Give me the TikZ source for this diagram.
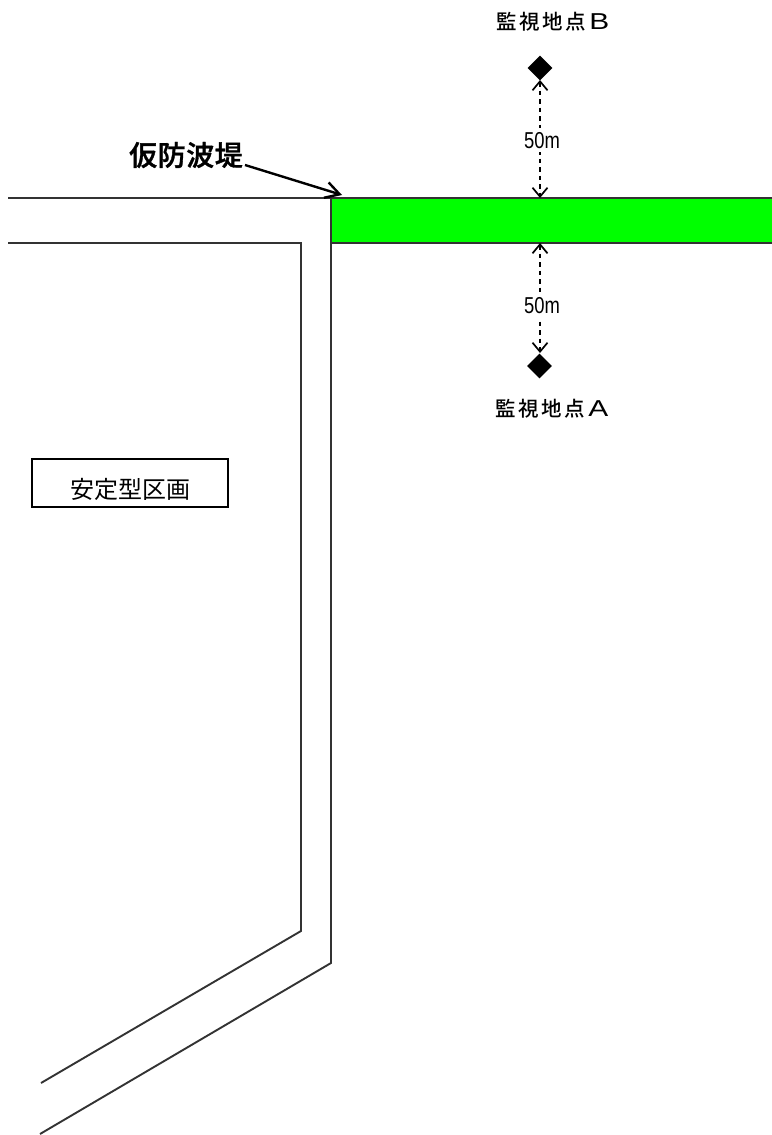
\documentclass[tikz,border=0pt]{standalone}
\usepackage{fontspec}
\usetikzlibrary{arrows.meta,shapes.geometric}
\setmainfont{Liberation Sans}
\newfontfamily\jpfont{Noto Sans CJK JP}
\newfontfamily\jpspaced[LetterSpace=12]{Noto Sans CJK JP Medium}
\newfontfamily\jpbold[LetterSpace=2,FakeBold=1.2]{Noto Sans CJK JP Medium}
\tikzset{
  wall/.style={draw=black!80,line width=1.9pt,line join=miter},
  dike/.style={draw=black!80,line width=1.9pt,fill=green,outer sep=0pt},
  point/.style={diamond,fill=black,inner sep=0pt,minimum width=25pt,minimum height=25pt},
  pointlabel/.style={inner sep=0pt,font=\fontsize{20.5pt}{22pt}\jpspaced},
  dist/.style={dash pattern=on 4.5pt off 4pt,line width=1.7pt,{Straight Barb[length=9pt,width=15pt]}-{Straight Barb[length=9pt,width=15pt]}},
  distlabel/.style={fill=white,inner ysep=4pt,inner xsep=1pt,font=\fontsize{23pt}{25pt}\selectfont},
}
\newcommand{\widecap}[1]{\,\scalebox{1.3}[1]{\fontspec{Liberation Sans}\fontsize{23pt}{24pt}\selectfont #1}}
\begin{document}
\begin{tikzpicture}[x=1pt,y=-1pt]
\useasboundingbox (0,0) rectangle (771,1135);
\node[dike,draw,inner sep=0pt,anchor=north west,text width=450pt,minimum height=45pt] (dike) at (331,198) {};
\coordinate (tl) at (8,198);
\coordinate (wallc) at (331,963);
\coordinate (walle) at (40,1134);
\coordinate (il) at (8,243);
\coordinate (ic1) at (301,243);
\coordinate (ic2) at (301,931);
\coordinate (ie) at (41,1083);
\draw[wall] (tl) -- (dike.north west) -- (wallc) -- (walle);
\draw[wall] (il) -- (ic1) -- (ic2) -- (ie);
\node[point] (ptB) at (540,68) {};
\node[point] (ptA) at (539.5,366) {};
\node[pointlabel] (lblB) at (553,22) {監視地点\widecap{B}};
\node[pointlabel] (lblA) at (552,409) {監視地点\widecap{A}};
\coordinate (dikeTop) at (540,198);
\coordinate (dikeBot) at (540,243);
\coordinate (ptBb) at (540,80);
\coordinate (ptAt) at (540,353);
\draw[dist] (ptBb) -- node[distlabel,pos=0.51,xshift=2pt] (d1) {\scalebox{0.8}[1]{50m}} (dikeTop);
\draw[dist] (dikeBot) -- node[distlabel,pos=0.57,xshift=2pt] (d2) {\scalebox{0.8}[1]{50m}} (ptAt);
\node[inner sep=0pt,font=\fontsize{28pt}{30pt}\jpbold] (kari) at (186,155) {仮防波堤};
\coordinate (tip) at (342,195);
\draw[line width=2.4pt,-{Straight Barb[length=14pt,width=16pt]}] (245,165) -- (tip);
\node[draw=black,line width=1.9pt,minimum width=196pt,minimum height=48pt,inner sep=0pt] (zone) at (130,483) {};
\node[inner sep=0pt,font=\fontsize{24pt}{26pt}\jpfont] (zonetext) at (130,489) {安定型区画};
\end{tikzpicture}
\end{document}
